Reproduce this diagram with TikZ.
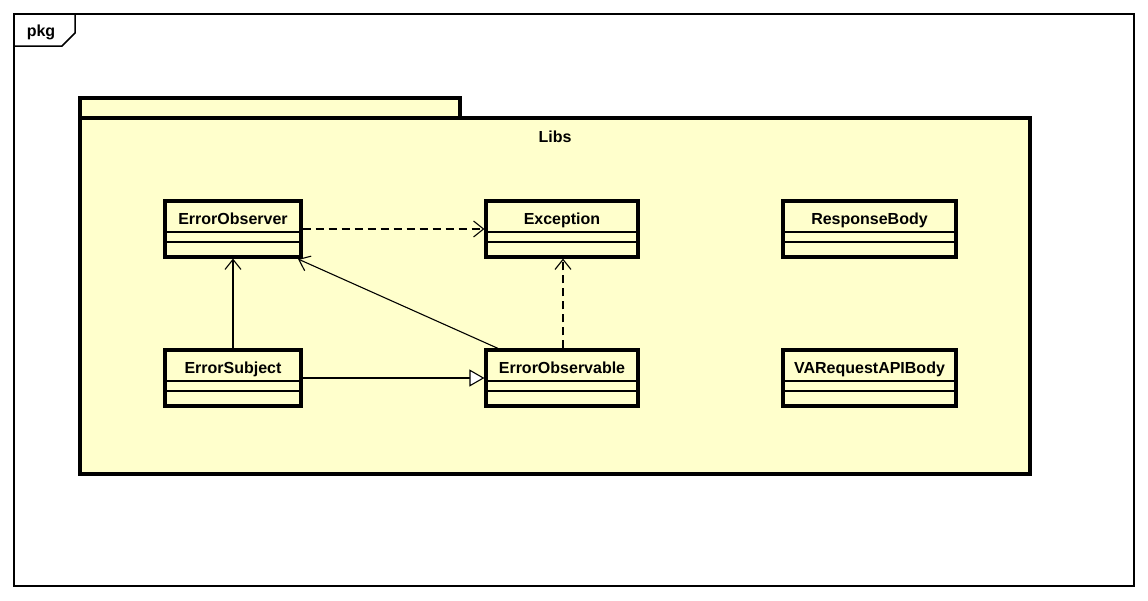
\documentclass[tikz,border=0pt]{standalone}
\usepackage{fontspec}
\setmainfont{Liberation Sans}
\usetikzlibrary{arrows.meta}
\definecolor{pkgfill}{RGB}{255,255,204}
\begin{document}
\begin{tikzpicture}[x=1pt,y=-1pt,
  cls/.style={draw=black, line width=3.2pt, fill=pkgfill, inner sep=0pt, rectangle},
  clsname/.style={font=\bfseries\fontsize{16}{19}\selectfont, inner sep=0pt, anchor=base},
  divider/.style={line width=1.1pt},
  conn/.style={line width=1.1pt},
  dep/.style={conn, dash pattern=on 8pt off 5pt, -{Straight Barb[length=10pt,width=16pt,line width=1.1pt]}},
  assoc/.style={conn, -{Straight Barb[length=10pt,width=16pt,line width=1.1pt]}},
  gen/.style={conn, -{Triangle[open,length=15pt,width=17pt,line width=1.1pt,fill=white]}}
]
\useasboundingbox (0,0) rectangle (1148,600);

% outer frame with pkg tab
\draw[line width=1.5pt] (14,14) rectangle (1134,586);
\draw[line width=1.5pt] (14,46) -- (62,46) -- (75,33) -- (75,14);
\node[font=\bfseries\fontsize{16}{19}\selectfont, inner sep=0pt, anchor=base] (pkg) at (41,36) {pkg};

% package Libs
\draw[cls] (80,98) rectangle (460,118);
\draw[cls] (80,118) rectangle (1030,474);
\node[font=\bfseries\fontsize{16}{19}\selectfont, inner sep=0pt, anchor=base] (libs) at (555,142) {Libs};

% classes: \umlclass{id}{x1}{y1}{x2}{y2}{name}
\newcommand{\umlclass}[6]{%
  \node[cls, minimum width=#4-#2, minimum height=#5-#3] (#1) at ({(#2+#4)/2},{(#3+#5)/2}) {};
  \node[clsname] (#1-name) at ({(#2+#4)/2},#3+23) {#6};
  \draw[divider] (#2,#3+31) -- (#4,#3+31);
  \draw[divider] (#2,#3+41) -- (#4,#3+41);
}
\umlclass{observer}{165}{201}{301}{257}{ErrorObserver}
\umlclass{exception}{486}{201}{638}{257}{Exception}
\umlclass{response}{783}{201}{956}{257}{ResponseBody}
\umlclass{subject}{165}{350}{301}{406}{ErrorSubject}
\umlclass{observable}{486}{350}{638}{406}{ErrorObservable}
\umlclass{varequest}{783}{350}{956}{406}{VARequestAPIBody}

% relations
\draw[dep] (observer.east |- 0,229) -- (exception.west |- 0,229);
\draw[dep] (observable.north -| 563,0) -- (exception.south -| 563,0);
\draw[assoc] (subject.north -| 233,0) -- (observer.south -| 233,0);
\draw[assoc] (observable.north -| 498,0) -- (298,259);
\draw[gen] (subject.east |- 0,378) -- (observable.west |- 0,378);
\end{tikzpicture}
\end{document}
